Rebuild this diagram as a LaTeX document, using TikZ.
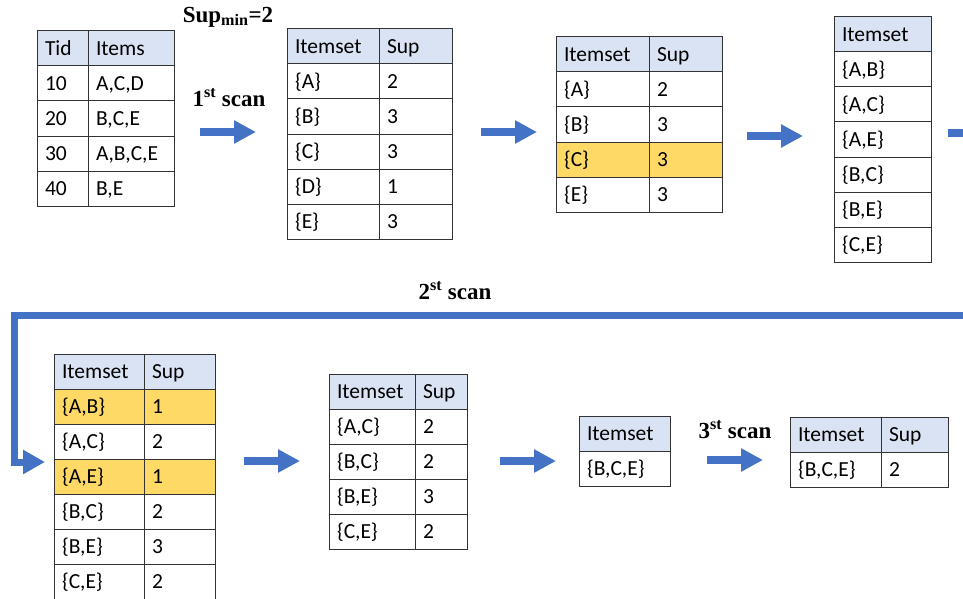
\documentclass[tikz,border=0pt]{standalone}
\usepackage{fontspec}
\setmainfont{Carlito}
\newfontfamily\scanfont{Liberation Serif}
\usetikzlibrary{positioning,arrows.meta}
\definecolor{headblue}{HTML}{DAE3F3}
\definecolor{pruned}{HTML}{FFD966}
\definecolor{flowblue}{HTML}{4472C4}
\begin{document}
\begin{tikzpicture}[x=1pt,y=-1pt,
  cell/.style={draw=black!80, line width=1pt, text width=#1, align=left,
    inner xsep=8pt, inner ysep=0pt, outer sep=0pt, minimum height=35pt,
    text height=16pt, text depth=2pt, font=\fontsize{21.5}{24}\selectfont},
  head/.style={cell=#1, fill=headblue},
  low/.style={cell=#1, fill=pruned},
  flow/.style={draw=flowblue, line width=8pt, -{Triangle[length=22pt,width=22pt]}},
  scan/.style={font=\scanfont\bfseries\fontsize{23}{26}\selectfont}]
\useasboundingbox (0,0) rectangle (963,599);
\clip (0,0) rectangle (963,599);

% database
\node[head=35pt, anchor=north west] (tid0) at (37,31) {Tid};
\node[head=70pt, right=0pt of tid0] (itm0) {Items};
\node[cell=35pt, below=0pt of tid0] (tid1) {10}; \node[cell=70pt, right=0pt of tid1] (itm1) {A,C,D};
\node[cell=35pt, below=0pt of tid1] (tid2) {20}; \node[cell=70pt, right=0pt of tid2] (itm2) {B,C,E};
\node[cell=35pt, below=0pt of tid2] (tid3) {30}; \node[cell=70pt, right=0pt of tid3] (itm3) {A,B,C,E};
\node[cell=35pt, below=0pt of tid3] (tid4) {40}; \node[cell=70pt, right=0pt of tid4] (itm4) {B,E};

% C1
\node[head=76pt, anchor=north west] (c1i0) at (287,29) {Itemset};
\node[head=57pt, right=0pt of c1i0] (c1s0) {Sup};
\node[cell=76pt, below=0pt of c1i0] (c1i1) {\{A\}}; \node[cell=57pt, right=0pt of c1i1] (c1s1) {2};
\node[cell=76pt, below=0pt of c1i1] (c1i2) {\{B\}}; \node[cell=57pt, right=0pt of c1i2] (c1s2) {3};
\node[cell=76pt, below=0pt of c1i2] (c1i3) {\{C\}}; \node[cell=57pt, right=0pt of c1i3] (c1s3) {3};
\node[cell=76pt, below=0pt of c1i3] (c1i4) {\{D\}}; \node[cell=57pt, right=0pt of c1i4] (c1s4) {1};
\node[cell=76pt, below=0pt of c1i4] (c1i5) {\{E\}}; \node[cell=57pt, right=0pt of c1i5] (c1s5) {3};

% L1
\node[head=77pt, anchor=north west] (l1i0) at (556,37) {Itemset};
\node[head=57pt, right=0pt of l1i0] (l1s0) {Sup};
\node[cell=77pt, below=0pt of l1i0] (l1i1) {\{A\}}; \node[cell=57pt, right=0pt of l1i1] (l1s1) {2};
\node[cell=77pt, below=0pt of l1i1] (l1i2) {\{B\}}; \node[cell=57pt, right=0pt of l1i2] (l1s2) {3};
\node[low=77pt, below=0pt of l1i2] (l1i3) {\{C\}}; \node[low=57pt, right=0pt of l1i3] (l1s3) {3};
\node[cell=77pt, below=0pt of l1i3] (l1i4) {\{E\}}; \node[cell=57pt, right=0pt of l1i4] (l1s4) {3};

% C2
\node[head=81pt, anchor=north west] (c2i0) at (834,17) {Itemset};
\node[cell=81pt, below=0pt of c2i0] (c2i1) {\{A,B\}};
\node[cell=81pt, below=0pt of c2i1] (c2i2) {\{A,C\}};
\node[cell=81pt, below=0pt of c2i2] (c2i3) {\{A,E\}};
\node[cell=81pt, below=0pt of c2i3] (c2i4) {\{B,C\}};
\node[cell=81pt, below=0pt of c2i4] (c2i5) {\{B,E\}};
\node[cell=81pt, below=0pt of c2i5] (c2i6) {\{C,E\}};

% C2 with counts
\node[head=74pt, anchor=north west] (s2i0) at (54,354) {Itemset};
\node[head=55pt, right=0pt of s2i0] (s2s0) {Sup};
\node[low=74pt, below=0pt of s2i0] (s2i1) {\{A,B\}}; \node[low=55pt, right=0pt of s2i1] (s2s1) {1};
\node[cell=74pt, below=0pt of s2i1] (s2i2) {\{A,C\}}; \node[cell=55pt, right=0pt of s2i2] (s2s2) {2};
\node[low=74pt, below=0pt of s2i2] (s2i3) {\{A,E\}}; \node[low=55pt, right=0pt of s2i3] (s2s3) {1};
\node[cell=74pt, below=0pt of s2i3] (s2i4) {\{B,C\}}; \node[cell=55pt, right=0pt of s2i4] (s2s4) {2};
\node[cell=74pt, below=0pt of s2i4] (s2i5) {\{B,E\}}; \node[cell=55pt, right=0pt of s2i5] (s2s5) {3};
\node[cell=74pt, below=0pt of s2i5] (s2i6) {\{C,E\}}; \node[cell=55pt, right=0pt of s2i6] (s2s6) {2};

% L2
\node[head=70pt, anchor=north west] (l2i0) at (329,374) {Itemset};
\node[head=36pt, right=0pt of l2i0] (l2s0) {Sup};
\node[cell=70pt, below=0pt of l2i0] (l2i1) {\{A,C\}}; \node[cell=36pt, right=0pt of l2i1] (l2s1) {2};
\node[cell=70pt, below=0pt of l2i1] (l2i2) {\{B,C\}}; \node[cell=36pt, right=0pt of l2i2] (l2s2) {2};
\node[cell=70pt, below=0pt of l2i2] (l2i3) {\{B,E\}}; \node[cell=36pt, right=0pt of l2i3] (l2s3) {3};
\node[cell=70pt, below=0pt of l2i3] (l2i4) {\{C,E\}}; \node[cell=36pt, right=0pt of l2i4] (l2s4) {2};

% C3 and L3
\node[head=75pt, anchor=north west] (c3i0) at (579,416) {Itemset};
\node[cell=75pt, below=0pt of c3i0] (c3i1) {\{B,C,E\}};
\node[head=75pt, anchor=north west] (l3i0) at (790,417) {Itemset};
\node[head=51pt, right=0pt of l3i0] (l3s0) {Sup};
\node[cell=75pt, below=0pt of l3i0] (l3i1) {\{B,C,E\}}; \node[cell=51pt, right=0pt of l3i1] (l3s1) {2};

% scans
\node[scan] (supmin) at (228,17) {Sup\textsubscript{min}=2};
\node[scan] (scan1) at (229,98) {1\textsuperscript{st} scan};
\node[scan] (scan2) at (455,291) {2\textsuperscript{st} scan};
\node[scan] (scan3) at (735,430) {3\textsuperscript{st} scan};

\draw[flow, shorten <=26pt, shorten >=31pt] (itm0.east |- 0,132) -- (c1i0.west |- 0,132);
\draw[flow, shorten <=29pt, shorten >=19pt] (c1s0.east |- 0,132) -- (l1i0.west |- 0,132);
\draw[flow, shorten <=25pt, shorten >=31pt] (l1s0.east |- 0,136) -- (c2i0.west |- 0,136);
\coordinate (exit) at (1000,133);
\draw[flow, shorten <=17pt] (c2i0.east |- exit) -- (exit);

\coordinate (wrap) at (975,315);
\coordinate (bend) at (14,462);
\draw[flow, line width=7pt, -{Triangle[length=22pt,width=23pt]}, shorten >=9pt]
  (wrap) -| (bend) -- (s2i0.west |- bend);

\draw[flow, shorten <=29pt, shorten >=29pt] (s2s0.east |- 0,461) -- (l2i0.west |- 0,461);
\draw[flow, shorten <=33pt, shorten >=23pt] (l2s0.east |- 0,461) -- (c3i0.west |- 0,461);
\draw[flow, shorten <=37pt, shorten >=27pt] (c3i0.east |- 0,460) -- (l3i0.west |- 0,460);
\end{tikzpicture}
\end{document}
